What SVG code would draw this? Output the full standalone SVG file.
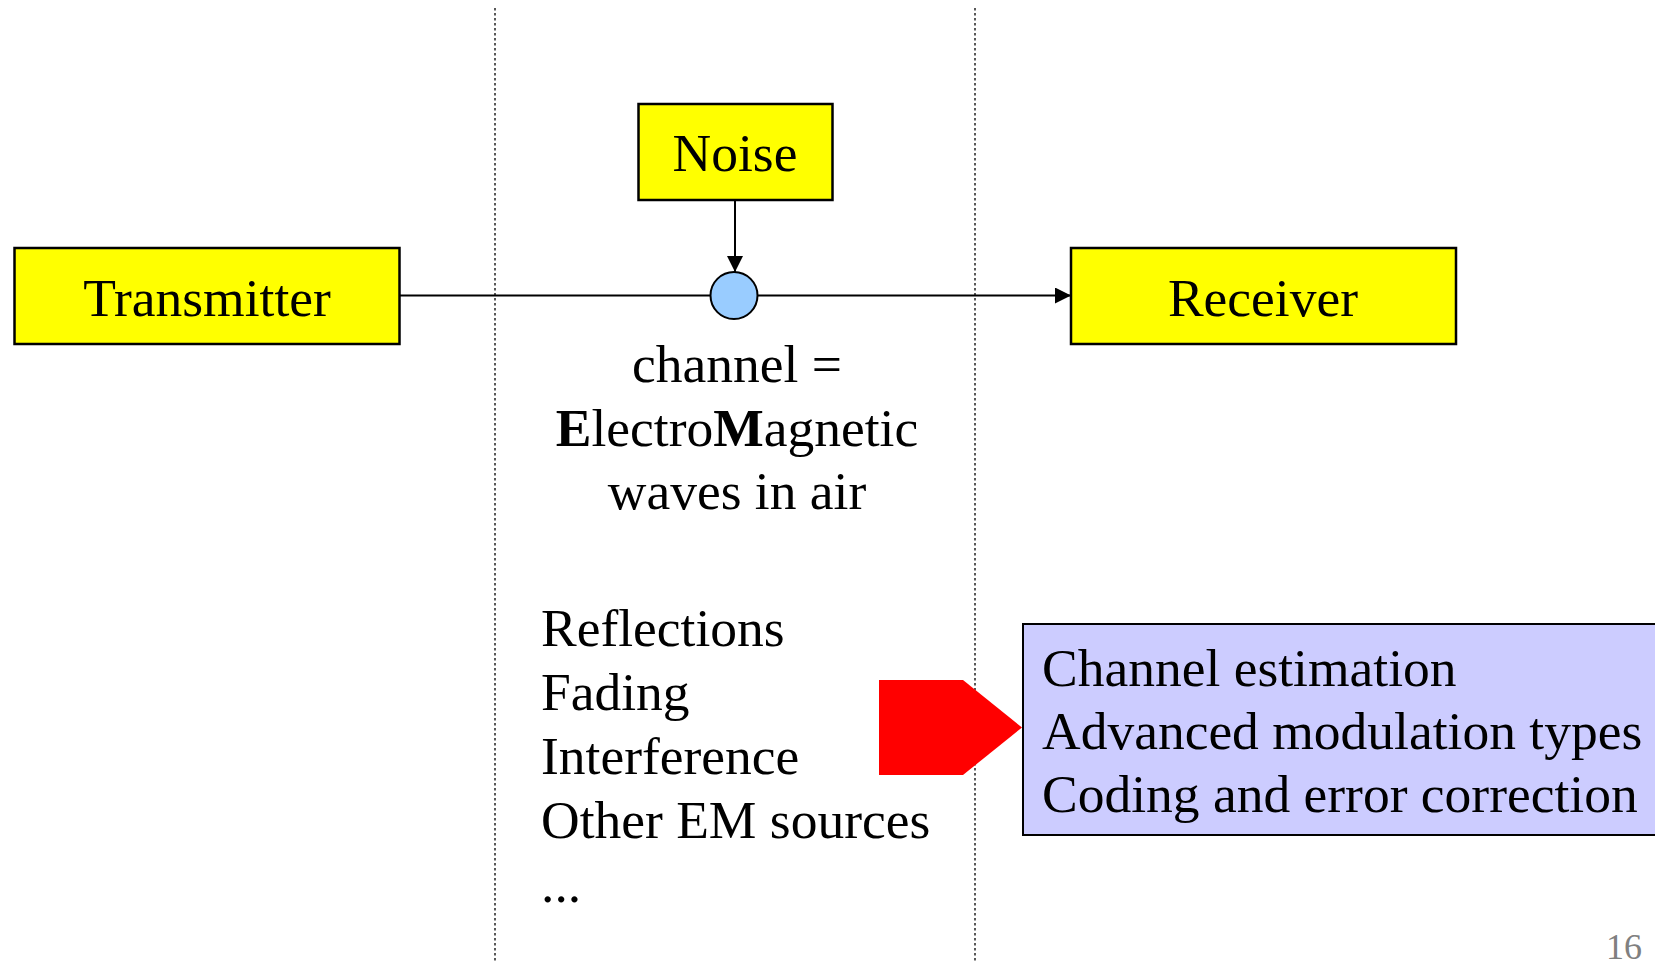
<svg xmlns="http://www.w3.org/2000/svg" width="1655" height="961" viewBox="0 0 1655 961">
<style>
.box{fill:#FFFF00;stroke:#000;stroke-width:2.5}
.t{font-family:"Liberation Serif","Times New Roman",serif;font-size:53.5px;fill:#000}
.c{text-anchor:middle}
.sep{stroke:#000;stroke-width:1.3;stroke-dasharray:2.5 2.5;fill:none}
.wire{stroke:#000;stroke-width:2;fill:none}
</style>
<defs>
<marker id="ah" viewBox="0 0 10 10" refX="10" refY="5" markerWidth="16" markerHeight="16" markerUnits="userSpaceOnUse" orient="auto">
<path d="M0,0 L10,5 L0,10 z" fill="#000"/>
</marker>
</defs>
<rect width="1655" height="961" fill="#fff"/>
<g id="separators">
<line class="sep" x1="495" y1="8" x2="495" y2="961"/>
<line class="sep" x1="975" y1="8" x2="975" y2="961"/>
</g>
<g id="connectors">
<line class="wire" x1="399" y1="295.5" x2="710" y2="295.5"/>
<line class="wire" x1="757" y1="295.5" x2="1071" y2="295.5" marker-end="url(#ah)"/>
<line class="wire" x1="735" y1="200" x2="735" y2="272" marker-end="url(#ah)"/>
</g>
<g id="transmitter">
<rect class="box" x="14.5" y="248" width="385" height="96"/>
<text class="t c" x="207" y="316">Transmitter</text>
</g>
<g id="noise">
<rect class="box" x="638.5" y="104" width="194" height="96"/>
<text class="t c" x="735" y="171">Noise</text>
</g>
<g id="receiver">
<rect class="box" x="1071" y="248" width="385" height="96"/>
<text class="t c" x="1263" y="316">Receiver</text>
</g>
<g id="channel-node">
<circle cx="734" cy="295.5" r="23.5" fill="#99CCFF" stroke="#000" stroke-width="2"/>
</g>
<g id="channel-label">
<text class="t c" x="737" y="382">channel =</text>
<text class="t c" x="737" y="446"><tspan font-weight="bold">E</tspan>lectro<tspan font-weight="bold">M</tspan>agnetic</text>
<text class="t c" x="737" y="509">waves in air</text>
</g>
<g id="effects">
<text class="t" x="541" y="646">Reflections</text>
<text class="t" x="541" y="710">Fading</text>
<text class="t" x="541" y="774">Interference</text>
<text class="t" x="541" y="838">Other EM sources</text>
<text class="t" x="541" y="902">...</text>
</g>
<g id="red-arrow">
<polygon points="879,680 963,680 1022,727.5 963,775 879,775" fill="#FF0000"/>
</g>
<g id="solutions">
<rect x="1023" y="624" width="700" height="211" fill="#CCCCFF" stroke="#000" stroke-width="2"/>
<text class="t" x="1042" y="686">Channel estimation</text>
<text class="t" x="1042" y="749">Advanced modulation types</text>
<text class="t" x="1042" y="812">Coding and error correction</text>
</g>
<text x="1642" y="959" text-anchor="end" font-family="Liberation Serif,serif" font-size="36" fill="#808080">16</text>
</svg>
